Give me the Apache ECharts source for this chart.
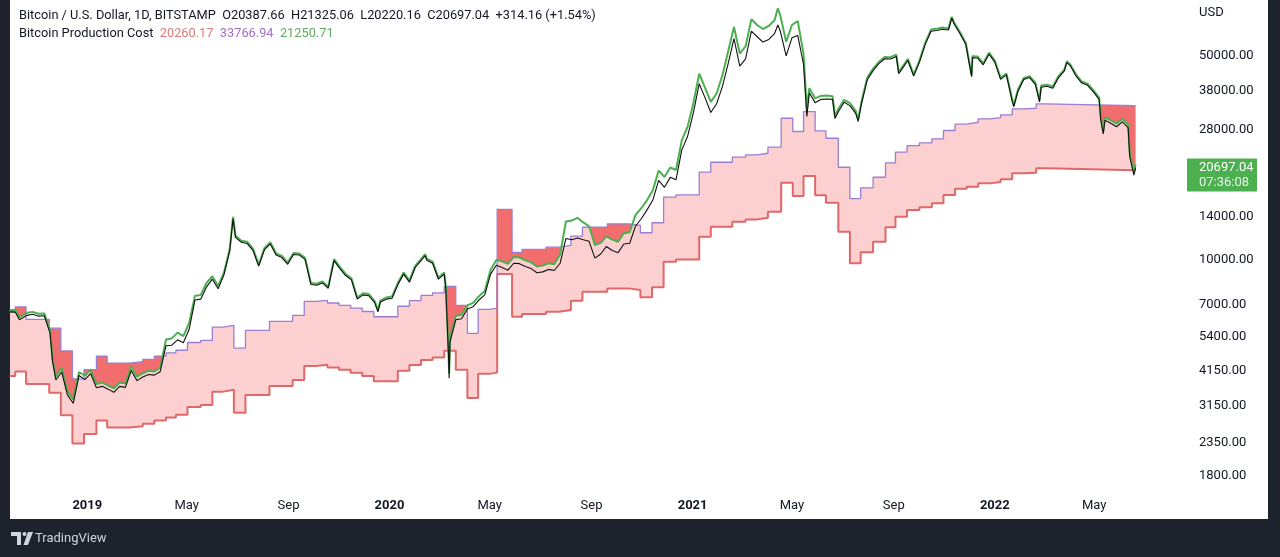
<!DOCTYPE html>
<html>
<head>
<meta charset="utf-8">
<script src="https://cdn.jsdelivr.net/npm/echarts@6/dist/echarts.min.js"></script>
<style>
html,body{margin:0;padding:0;background:#1e222d;overflow:hidden;}
#wrap{position:relative;width:1280px;height:557px;background:#1e222d;}
#panel{position:absolute;left:10px;top:0;width:1258px;height:519px;background:#ffffff;}
#c{position:absolute;left:0;top:0;width:1280px;height:557px;}
</style>
</head>
<body>
<div id="wrap"><div id="panel"></div><div id="c"></div></div>
<script>
// ---------- DATA ----------
// Production cost steps: [date the step starts, lower cost, upper cost]
const costSteps = [
['2018-09-29',3970,6620],['2018-10-06',4120,6870],['2018-10-19',3730,6220],['2018-11-16',3480,5800],
['2018-11-30',2910,4850],['2018-12-14',2330,3880],['2018-12-28',2510,4180],['2019-01-12',2790,4650],
['2019-01-25',2640,4400],['2019-02-21',2670,4450],['2019-03-09',2720,4530],['2019-03-23',2790,4650],
['2019-04-06',2860,4770],['2019-04-18',2920,4870],['2019-05-02',3110,5180],['2019-05-18',3160,5270],
['2019-06-01',3510,5850],['2019-06-14',3560,5930],['2019-06-27',2970,4950],['2019-07-11',3420,5700],
['2019-08-09',3670,6120],['2019-09-06',3850,6420],['2019-09-20',4300,7170],['2019-10-04',4340,7230],
['2019-10-18',4250,7080],['2019-11-01',4170,6950],['2019-11-15',4080,6800],['2019-11-29',3970,6620],
['2019-12-13',3810,6350],['2020-01-11',4140,6900],['2020-01-25',4330,7220],['2020-02-08',4510,7520],
['2020-02-22',4600,7670],['2020-03-07',4850,8080],['2020-03-21',4170,6950],['2020-04-04',3340,5570],
['2020-04-17',4040,6730],['2020-04-30',4080,6800],['2020-05-10',8910,14850],['2020-05-28',6350,10580],
['2020-06-09',6490,10820],['2020-07-08',6610,11020],['2020-07-24',6700,11170],['2020-08-07',7210,12020],
['2020-08-21',7740,12900],['2020-09-20',7950,13250],['2020-10-16',7850,13080],['2020-10-30',7410,12350],
['2020-11-13',8020,13370],['2020-11-27',9820,16370],['2020-12-12',10000,16670],['2021-01-09',11970,19950],
['2021-01-23',12950,21580],['2021-02-18',13480,22470],['2021-03-06',13730,22880],['2021-03-20',13910,23180],
['2021-04-02',14590,24320],['2021-04-18',18350,30580],['2021-05-02',16520,27530],['2021-05-15',19350,32250],
['2021-05-29',16610,27680],['2021-06-11',15660,26100],['2021-06-26',12450,20750],['2021-07-10',9700,16170],
['2021-07-23',10580,17630],['2021-08-07',11500,19170],['2021-08-22',12890,21480],['2021-09-03',14020,23370],
['2021-09-17',14780,24630],['2021-10-02',15100,25170],['2021-10-17',15590,25980],['2021-10-31',16650,27750],
['2021-11-14',17500,29170],['2021-11-28',17780,29630],['2021-12-12',18260,30430],['2021-12-26',18450,30750],
['2022-01-08',18850,31420],['2022-01-22',19770,32950],['2022-02-05',19860,33100],['2022-02-20',20570,34280],
['2022-03-04',20260.17,33766.94]
];
const costEndDate = '2022-06-20';

// Price rows: [date, BTC close (black), production-cost margin line (green)]
const btc2018 = [
['2018-09-29',6600,6700],['2018-10-06',6590,6700],['2018-10-11',6200,6320],['2018-10-13',6280,6400],
['2018-10-20',6420,6550],['2018-10-27',6480,6600],['2018-11-03',6380,6500],['2018-11-10',6400,6520],
['2018-11-17',5580,5700],['2018-11-20',4450,4550],['2018-11-24',3850,3950],['2018-12-01',4100,4230],
['2018-12-08',3420,3520],['2018-12-15',3200,3300],['2018-12-22',3990,4100],['2018-12-29',3860,3980]
];
const btc2019 = [
['2019-01-05',4050,4170],['2019-01-12',3620,3730],['2019-01-19',3660,3770],['2019-01-26',3580,3690],
['2019-02-02',3490,3600],['2019-02-09',3660,3770],['2019-02-16',3630,3740],['2019-02-23',4150,4280],
['2019-03-02',3830,3950],['2019-03-09',3940,4060],['2019-03-16',4020,4140],['2019-03-23',4000,4120],
['2019-03-30',4110,4240],['2019-04-06',5050,5300],['2019-04-13',5070,5350],['2019-04-20',5290,5600],
['2019-04-27',5170,5450],['2019-05-04',5750,6050],['2019-05-11',7250,7500],['2019-05-18',7300,7550],
['2019-05-25',8050,8300],['2019-06-01',8550,8750],['2019-06-08',7930,8100],['2019-06-15',8850,9000],
['2019-06-22',10700,10850],['2019-06-26',13800,14000],['2019-06-29',11900,12050],['2019-07-06',11450,11600],
['2019-07-13',11350,11500],['2019-07-20',10750,10900],['2019-07-27',9480,9600],['2019-08-03',10800,10950],
['2019-08-10',11300,11450],['2019-08-17',10350,10480],['2019-08-24',10150,10280],['2019-08-31',9620,9750],
['2019-09-07',10400,10530],['2019-09-14',10350,10480],['2019-09-21',10000,10120],['2019-09-28',8200,8300],
['2019-10-05',8150,8250],['2019-10-12',8300,8400],['2019-10-19',7960,8060],['2019-10-26',9900,10020],
['2019-11-02',9300,9420],['2019-11-09',8800,8910],['2019-11-16',8500,8610],['2019-11-23',7300,7400],
['2019-11-30',7550,7650],['2019-12-07',7500,7600],['2019-12-14',7100,7190],['2019-12-18',6600,6700],
['2019-12-21',7140,7230],['2019-12-28',7300,7390]
];
const btc2020 = [
['2020-01-04',7350,7450],['2020-01-11',8180,8290],['2020-01-18',8900,9020],['2020-01-25',8350,8460],
['2020-02-01',9380,9500],['2020-02-08',9900,10030],['2020-02-13',10300,10430],['2020-02-15',9930,10060],
['2020-02-22',9700,9830],['2020-02-29',8550,8660],['2020-03-07',8900,9020],['2020-03-09',7900,8050],
['2020-03-11',7900,8050],['2020-03-12',4850,4950],['2020-03-13',3900,4050],['2020-03-14',5200,5350],
['2020-03-21',6200,6400],['2020-03-28',6250,6450],['2020-04-04',6750,6950],['2020-04-11',6880,7090],
['2020-04-18',7250,7470],['2020-04-25',7550,7780],['2020-05-02',8900,9200],['2020-05-09',9550,9950],
['2020-05-16',9380,9850],['2020-05-23',9180,9650],['2020-05-30',9700,10200],['2020-06-06',9670,10150],
['2020-06-13',9460,9930],['2020-06-20',9300,9770],['2020-06-27',9000,9450],['2020-07-04',9060,9520],
['2020-07-11',9240,9700],['2020-07-18',9160,9620],['2020-07-25',9700,10400],['2020-08-01',11800,13500],
['2020-08-08',11680,13600],['2020-08-15',11850,13900],['2020-08-22',11680,13400],['2020-08-29',11540,13000],
['2020-09-05',10100,11200],['2020-09-12',10440,11400],['2020-09-19',11080,12000],['2020-09-26',10730,11700],
['2020-10-03',10550,11500],['2020-10-10',11300,12300],['2020-10-17',11360,12400],['2020-10-24',13000,14200],
['2020-10-31',13800,15000],['2020-11-07',14800,16000],['2020-11-14',16000,17300],['2020-11-21',18700,20200],
['2020-11-28',17700,19200],['2020-12-05',19150,20700],['2020-12-12',18800,20300],['2020-12-19',23800,25700],
['2020-12-26',26500,28600]
];
const btc2021 = [
['2021-01-02',32000,34500],['2021-01-09',40200,43500],['2021-01-16',36000,39000],['2021-01-23',32000,34800],
['2021-01-30',34300,37200],['2021-02-06',39300,43000],['2021-02-13',47200,52000],['2021-02-20',57500,63000],
['2021-02-27',46200,51000],['2021-03-06',48900,54000],['2021-03-13',61000,67000],['2021-03-20',58300,64000],
['2021-03-27',55900,62000],['2021-04-03',57100,63500],['2021-04-10',59800,66500],['2021-04-14',64000,73000],
['2021-04-17',60900,69000],['2021-04-24',50100,56000],['2021-05-01',57800,64000],['2021-05-08',58900,66000],
['2021-05-15',46800,51000],['2021-05-19',31000,33000],['2021-05-22',37400,38800],['2021-05-29',34600,35800],
['2021-06-05',35500,36500],['2021-06-12',35600,36600],['2021-06-19',35500,36400],['2021-06-22',30500,31200],
['2021-06-26',32200,32900],['2021-07-03',34700,35400],['2021-07-10',33800,34500],['2021-07-17',31800,32400],
['2021-07-20',29800,30300],['2021-07-24',34300,34900],['2021-07-31',41500,42200],['2021-08-07',44600,45300],
['2021-08-14',47100,47800],['2021-08-21',49000,49700],['2021-08-28',48900,49600],['2021-09-04',49900,50600],
['2021-09-07',43500,44000],['2021-09-11',45200,45800],['2021-09-18',48300,48900],['2021-09-25',42700,43200],
['2021-10-02',47700,48300],['2021-10-09',54900,55600],['2021-10-16',60900,61700],['2021-10-23',61300,62100],
['2021-10-30',61900,62700],['2021-11-06',61500,62300],['2021-11-10',67500,68300],['2021-11-13',64400,65200],
['2021-11-20',59700,60400],['2021-11-27',54800,55500],['2021-12-04',42500,43000],['2021-12-05',49400,50000],
['2021-12-11',49300,49900],['2021-12-18',46700,47300],['2021-12-25',50800,51400]
];
const btc2022 = [
['2022-01-01',47700,48300],['2022-01-08',41600,42100],['2022-01-15',43100,43600],['2022-01-22',35000,35500],
['2022-01-24',33500,34000],['2022-01-29',37900,38400],['2022-02-05',41600,42100],['2022-02-12',42200,42700],
['2022-02-19',40000,40500],['2022-02-24',34800,35300],['2022-02-26',39100,39600],['2022-03-05',39400,39900],
['2022-03-12',38800,39300],['2022-03-19',42200,42700],['2022-03-26',44500,45000],['2022-03-29',47500,48000],
['2022-04-02',46400,46900],['2022-04-09',42800,43300],['2022-04-16',40400,40900],['2022-04-23',39700,40200],
['2022-04-30',37700,38200],['2022-05-07',35500,36000],['2022-05-09',30100,30700],['2022-05-12',27000,27600],
['2022-05-14',30100,30800],['2022-05-21',29400,30100],['2022-05-28',28600,29300],['2022-06-04',29700,30400],
['2022-06-11',28400,29100],['2022-06-13',22500,23100],['2022-06-18',19500,20000],['2022-06-20',20697.04,21250.71]
];

const priceTicks = [1800, 2350, 3150, 4150, 5400, 7000, 10000, 14000, 28000, 38000, 50000];
const timeTicks = ['2019-01-01','2019-05-01','2019-09-01','2020-01-01','2020-05-01','2020-09-01',
                   '2021-01-01','2021-05-01','2021-09-01','2022-01-01','2022-05-01'];
const monthNames = ['Jan','Feb','Mar','Apr','May','Jun','Jul','Aug','Sep','Oct','Nov','Dec'];
const ohlc = [20387.66, 21325.06, 20220.16, 20697.04];
const change = 314.16, changePct = 1.54;
const legendValues = [20260.17, 33766.94, 21250.71];
const lastClose = 20697.04;
const countdown = '07:36:08';

// ---------- BUILD ----------
const toTs = s => { const p = s.split('-').map(Number); return new Date(p[0], p[1]-1, p[2]).getTime(); };
const rows = [].concat(btc2018, btc2019, btc2020, btc2021, btc2022);
const closeData = rows.map(r => [toTs(r[0]), r[1]]);
const greenData = rows.map(r => [toTs(r[0]), r[2]]);
const lastStep = costSteps[costSteps.length - 1];
const endTs = toTs(costEndDate);
const lowData = costSteps.map(r => [toTs(r[0]), r[1]]).concat([[endTs, lastStep[1]]]);
const highData = costSteps.map(r => [toTs(r[0]), r[2]]).concat([[endTs, lastStep[2]]]);

const xMin = new Date(2018, 8, 29, 15).getTime();
const xMax = xMin + 1422.7 * 86400000;
const yMin = 1598, yMax = 78000;
const FONT = 'Roboto, "Liberation Sans", Arial, sans-serif';
const TXT = '#131722';

const chart = echarts.init(document.getElementById('c'), null, {renderer: 'canvas'});
const base = {type: 'line', showSymbol: false, symbol: 'none', animation: false, silent: true, clip: true};
const hidden = {width: 0, opacity: 0};

chart.setOption({
  backgroundColor: 'transparent',
  animation: false,
  grid: {left: 10, right: 92, top: 0, bottom: 66, containLabel: false, outerBoundsMode: 'none'},
  xAxis: {
    type: 'value', min: xMin, max: xMax, scale: true,
    axisLine: {show: false}, axisTick: {show: false}, splitLine: {show: false},
    axisLabel: {
      customValues: timeTicks.map(toTs), margin: 8, fontSize: 13, fontFamily: FONT, color: TXT,
      hideOverlap: false, showMinLabel: true, showMaxLabel: true,
      formatter: v => { const d = new Date(v); return d.getMonth() === 0 ? '{y|' + d.getFullYear() + '}' : monthNames[d.getMonth()]; },
      rich: {y: {fontWeight: 'bold', fontSize: 13, fontFamily: FONT, color: TXT}}
    }
  },
  yAxis: {
    type: 'log', logBase: 10, min: yMin, max: yMax, position: 'right',
    axisLine: {show: false}, axisTick: {show: false}, splitLine: {show: false},
    axisLabel: {customValues: priceTicks, margin: 11, fontSize: 13, fontFamily: FONT, color: TXT,
      formatter: v => Number(v).toFixed(2)}
  },
  series: [
    Object.assign({}, base, {data: highData, step: 'end', lineStyle: hidden, areaStyle: {color: '#f26d6d', opacity: 1, origin: 'start'}, z: 1}),
    Object.assign({}, base, {data: greenData, lineStyle: hidden, areaStyle: {color: '#fcd0d0', opacity: 1, origin: 'start'}, z: 2}),
    Object.assign({}, base, {data: highData, step: 'end', lineStyle: hidden, areaStyle: {color: '#ffffff', opacity: 1, origin: 'end'}, z: 3}),
    Object.assign({}, base, {data: lowData, step: 'end', lineStyle: hidden, areaStyle: {color: '#ffffff', opacity: 1, origin: 'start'}, z: 4,
      markLine: {silent: true, symbol: 'none', animation: false, label: {show: false},
        lineStyle: {color: '#ffffff', width: 3, type: 'solid'},
        data: [[{coord: [endTs, yMin]}, {coord: [endTs, lastStep[1] * 0.985]}]]}}),
    Object.assign({}, base, {data: lowData, step: 'end', lineStyle: {color: '#e06868', width: 2}, z: 5}),
    Object.assign({}, base, {data: highData, step: 'end', lineStyle: {color: '#9b7fd0', width: 1.3}, z: 6}),
    Object.assign({}, base, {data: greenData, lineStyle: {color: '#4caf50', width: 2}, z: 7}),
    Object.assign({}, base, {data: closeData, lineStyle: {color: '#111111', width: 1.1}, z: 8})
  ]
});

const yLast = chart.convertToPixel({yAxisIndex: 0}, lastClose);
const f2 = v => v.toFixed(2);
const header1 = 'Bitcoin / U.S. Dollar, 1D, BITSTAMP  O' + f2(ohlc[0]) + '  H' + f2(ohlc[1]) + '  L' + f2(ohlc[2]) +
  '  C' + f2(ohlc[3]) + '  +' + f2(change) + ' (+' + f2(changePct) + '%)';
const header2 = 'Bitcoin Production Cost  {r|' + f2(legendValues[0]) + '}  {p|' + f2(legendValues[1]) + '}  {g|' + f2(legendValues[2]) + '}';
const HF = '12.8px ' + FONT;

chart.setOption({
  graphic: [
    {type: 'text', z: 100, style: {text: header1, x: 19, y: 15.5, verticalAlign: 'middle', font: HF, fill: TXT}},
    {type: 'text', z: 100, style: {text: header2, x: 19, y: 34, verticalAlign: 'middle', font: HF, fill: TXT,
      rich: {r: {fill: '#e07a7a', font: HF}, p: {fill: '#a070c8', font: HF}, g: {fill: '#5cad5c', font: HF}}}},
    {type: 'text', z: 100, style: {text: 'USD', x: 1199, y: 13, verticalAlign: 'middle', font: '13px ' + FONT, fill: TXT}},
    {type: 'rect', z: 100, shape: {x: 1187, y: yLast - 9, width: 70, height: 33, r: 1}, style: {fill: '#4caf50'}},
    {type: 'text', z: 101, style: {text: f2(lastClose), x: 1199, y: yLast, verticalAlign: 'middle', font: '13px ' + FONT, fill: '#ffffff'}},
    {type: 'text', z: 101, style: {text: countdown, x: 1199, y: yLast + 15, verticalAlign: 'middle', font: '13px ' + FONT, fill: '#e8f5e9'}},
    {type: 'polygon', z: 100, shape: {points: [[11,532],[21,532],[21,545],[17,545],[17,536],[11,536]]}, style: {fill: '#d1d4dc'}},
    {type: 'circle', z: 100, shape: {cx: 24.5, cy: 534, r: 2}, style: {fill: '#d1d4dc'}},
    {type: 'polygon', z: 100, shape: {points: [[28,532],[33,532],[28,545],[23.5,545]]}, style: {fill: '#d1d4dc'}},
    {type: 'text', z: 100, style: {text: 'TradingView', x: 35, y: 539, verticalAlign: 'middle', font: '13px ' + FONT, fill: '#d1d4dc'}}
  ]
});
</script>
</body>
</html>
